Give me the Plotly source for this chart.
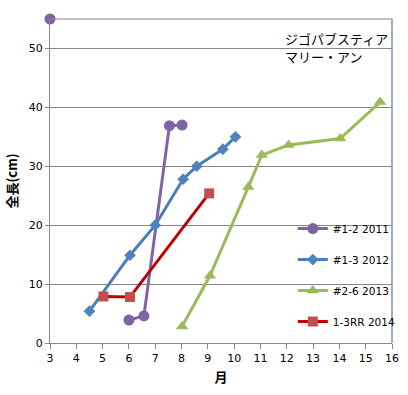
import plotly.graph_objects as go

# Series data
x_2011 = [3, None, 6, 6.57, 7.54, 8.02]
y_2011 = [55, None, 3.9, 4.6, 36.9, 37.0]

x_2012 = [4.5, 6.04, 7.0, 8.06, 8.58, 9.57, 10.05]
y_2012 = [5.4, 14.9, 20.0, 27.8, 30.0, 32.9, 35.0]

x_2013 = [8.02, 9.08, 10.54, 11.05, 12.07, 14.03, 15.55]
y_2013 = [2.8, 11.4, 26.5, 31.9, 33.6, 34.7, 40.9]

x_2014 = [5.03, 6.04, 9.05]
y_2014 = [7.9, 7.8, 25.4]

names = ["#1-2 2011", "#1-3 2012", "#2-6 2013", "1-3RR 2014"]
x_ticks = list(range(3, 17))
y_ticks = [0, 10, 20, 30, 40, 50]
title_lines = ["ジゴパブスティア", "マリー・アン"]

fig = go.Figure()
series = [
    (x_2011, y_2011, names[0], "#8064A2", "#8064A2", "circle", 11),
    (x_2012, y_2012, names[1], "#4A7EBB", "#4F81BD", "diamond", 9),
    (x_2013, y_2013, names[2], "#9BBB59", "#9BBB59", "triangle-up", 11),
    (x_2014, y_2014, names[3], "#C00000", "#C0504D", "square", 10),
]
for i, (xs, ys, nm, lc, mc, sym, ms) in enumerate(series):
    fig.add_trace(go.Scatter(
        x=xs, y=ys, name=nm, mode="lines+markers",
        line=dict(color=lc, width=3),
        marker=dict(color=mc, symbol=sym, size=ms),
        connectgaps=False, cliponaxis=False,
        legendgroup=str(i),
    ))

fig.update_layout(
    width=408, height=395,
    margin=dict(l=50, r=16, t=19, b=52, autoexpand=False),
    paper_bgcolor="white", plot_bgcolor="white",
    font=dict(family="DejaVu Sans", size=11, color="black"),
    showlegend=True,
    legend=dict(
        x=0.71, y=0.398, xanchor="left", yanchor="top",
        bgcolor="rgba(0,0,0,0)", itemwidth=30,
        tracegroupgap=12, traceorder="grouped",
        font=dict(family="DejaVu Sans", size=10.5, color="black"),
    ),
    xaxis=dict(
        range=[3, 16], tickvals=x_ticks, ticktext=[str(v) for v in x_ticks],
        showgrid=False, zeroline=False, automargin=False,
        showline=True, linecolor="#868686", linewidth=1,
        ticks="outside", ticklen=5, tickcolor="#868686",
        tickfont=dict(family="DejaVu Sans", size=11),
        title=dict(text="<b>月</b>", font=dict(family="Noto Sans CJK JP", size=13), standoff=8),
    ),
    yaxis=dict(
        range=[0, 55], tickvals=y_ticks, ticktext=[str(v) for v in y_ticks],
        showgrid=True, gridcolor="#868686", gridwidth=1, zeroline=False, automargin=False,
        showline=True, linecolor="#868686", linewidth=1,
        ticks="outside", ticklen=4, tickcolor="#868686",
        tickfont=dict(family="DejaVu Sans", size=11),
        title=dict(text="<b>全長(cm)</b>", font=dict(family="Noto Sans CJK JP", size=13), standoff=8),
    ),
    shapes=[
        dict(type="line", xref="paper", yref="paper", x0=0, x1=1, y0=1, y1=1,
             line=dict(color="#868686", width=1)),
        dict(type="line", xref="paper", yref="paper", x0=1, x1=1, y0=0, y1=1,
             line=dict(color="#7893B4", width=1.5)),
    ],
    annotations=[
        dict(text=title_lines[0], xref="paper", yref="paper",
             x=0.68, y=(343 - 38) / 324, xanchor="left", yanchor="middle",
             showarrow=False,
             font=dict(family="Noto Sans CJK JP", size=13, color="black")),
        dict(text=title_lines[1], xref="paper", yref="paper",
             x=0.68, y=(343 - 57) / 324, xanchor="left", yanchor="middle",
             showarrow=False,
             font=dict(family="Noto Sans CJK JP", size=13, color="black")),
    ],
)

post = (
    "document.body.style.margin='0';"
    "document.body.style.padding='0';"
    "document.body.style.overflow='hidden';"
    "var gd=document.getElementById('{plot_id}');"
    "Plotly.relayout(gd,{width:408,height:395});"
)

fig.write_html("out.html", post_script=post,
               config={"responsive": False, "displayModeBar": False})
